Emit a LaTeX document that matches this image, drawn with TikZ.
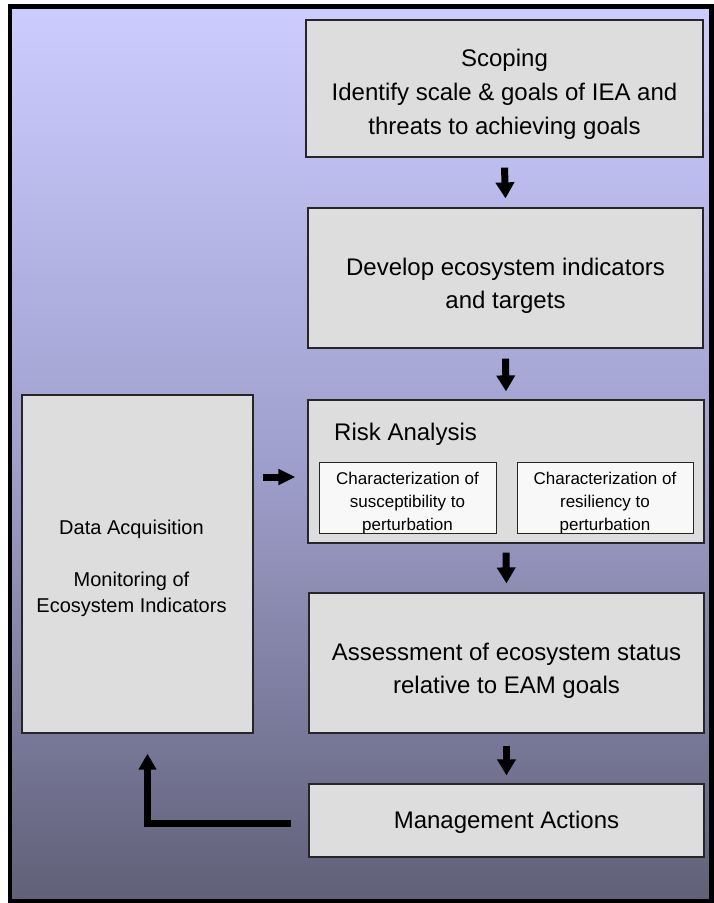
\documentclass[tikz,border=0pt]{standalone}
\usepackage{fontspec}
\setmainfont{Liberation Sans}
\usetikzlibrary{arrows.meta,calc}
\definecolor{bgtop}{RGB}{204,204,255}
\definecolor{bgmid}{RGB}{160,160,206}
\definecolor{bgbot}{RGB}{96,96,120}
\definecolor{boxfill}{RGB}{221,221,221}
\definecolor{innerfill}{RGB}{248,248,248}
\begin{document}
\begin{tikzpicture}[x=1pt,y=-1pt,
 box/.style={draw=black!85,line width=1.2pt,fill=boxfill,inner sep=0pt},
 inbox/.style={draw=black!85,line width=1pt,fill=innerfill,inner sep=0pt},
 bigtext/.style={align=center,inner sep=0pt,font=\fontsize{24}{33}\selectfont},
 smalltext/.style={align=center,inner sep=0pt,font=\fontsize{17}{23}\selectfont},
 flow/.style={line width=7pt,-{Triangle[length=16pt,width=18pt]}}
]
\useasboundingbox (0,0) rectangle (714,903);
\fill[white] (0,0) rectangle (714,903);
\shade[top color=bgtop,bottom color=bgbot,middle color=bgmid] (10,6.5) rectangle (711.5,901);
\draw[line width=4.5pt] (10,6.5) rectangle (711.5,901);

% boxes
\node[box,minimum width=397pt,minimum height=137pt] (scope) at (504.5,88.5) {};
\node[box,minimum width=395pt,minimum height=140pt] (dev) at (505.5,278) {};
\node[box,minimum width=396pt,minimum height=143pt] (risk) at (506,471.5) {};
\node[inbox,minimum width=177pt,minimum height=71pt] (susc) at (407.5,497.5) {};
\node[inbox,minimum width=176pt,minimum height=71pt] (resil) at (605,497.5) {};
\node[box,minimum width=395pt,minimum height=140pt] (assess) at (506.5,663) {};
\node[box,minimum width=395pt,minimum height=73pt] (manage) at (506.5,820.5) {};
\node[box,minimum width=231pt,minimum height=338pt] (data) at (137.5,564) {};

% texts
\node[bigtext,font=\fontsize{24}{34}\selectfont] (scopetxt) at ($(scope.center)+(0,5.5)$) {Scoping\\Identify scale \& goals of IEA and\\threats to achieving goals};
\node[bigtext] (devtxt) at ($(dev.center)+(0,8)$) {Develop ecosystem indicators\\and targets};
\node[anchor=west,inner sep=0pt,font=\fontsize{24}{28}\selectfont] (risktitle) at (334,434) {Risk Analysis};
\node[smalltext] (susctxt) at ($(susc.center)+(0,6)$) {Characterization of\\susceptibility to\\perturbation};
\node[smalltext] (resiltxt) at ($(resil.center)+(0,6)$) {Characterization of\\resiliency to\\perturbation};
\node[bigtext] (assesstxt) at ($(assess.center)+(0,8)$) {Assessment of ecosystem status\\relative to EAM goals};
\node[bigtext] (managetxt) at ($(manage.center)+(0,1.5)$) {Management Actions};
\node[align=center,inner sep=0pt,font=\fontsize{20}{26}\selectfont] (datatxt) at ($(data.center)+(-6,4.5)$) {Data Acquisition\\[26pt]Monitoring of\\Ecosystem Indicators};

% connectors
\draw[flow] ([yshift=-10pt]scope.south) -- ([yshift=9pt]dev.north);
\draw[flow] ([yshift=-10pt]dev.south) -- ([yshift=8pt]risk.north);
\draw[flow] ([yshift=-9pt]risk.south) -- ([yshift=9pt]assess.north);
\draw[flow] ([yshift=-12pt]assess.south) -- ([yshift=8pt]manage.north);
\draw[line width=7pt,-{Triangle[length=17pt,width=15pt]}] ($(data.east |- risk.west)+(9,5.5)$) -- ($(risk.west)+(-12,5.5)$);
\draw[line width=7pt,line join=miter,-{Triangle[length=16pt,width=17pt]}] ($(manage.west)+(-17,2.5)$) -| ($(data.south)+(10,20)$);
\end{tikzpicture}
\end{document}
